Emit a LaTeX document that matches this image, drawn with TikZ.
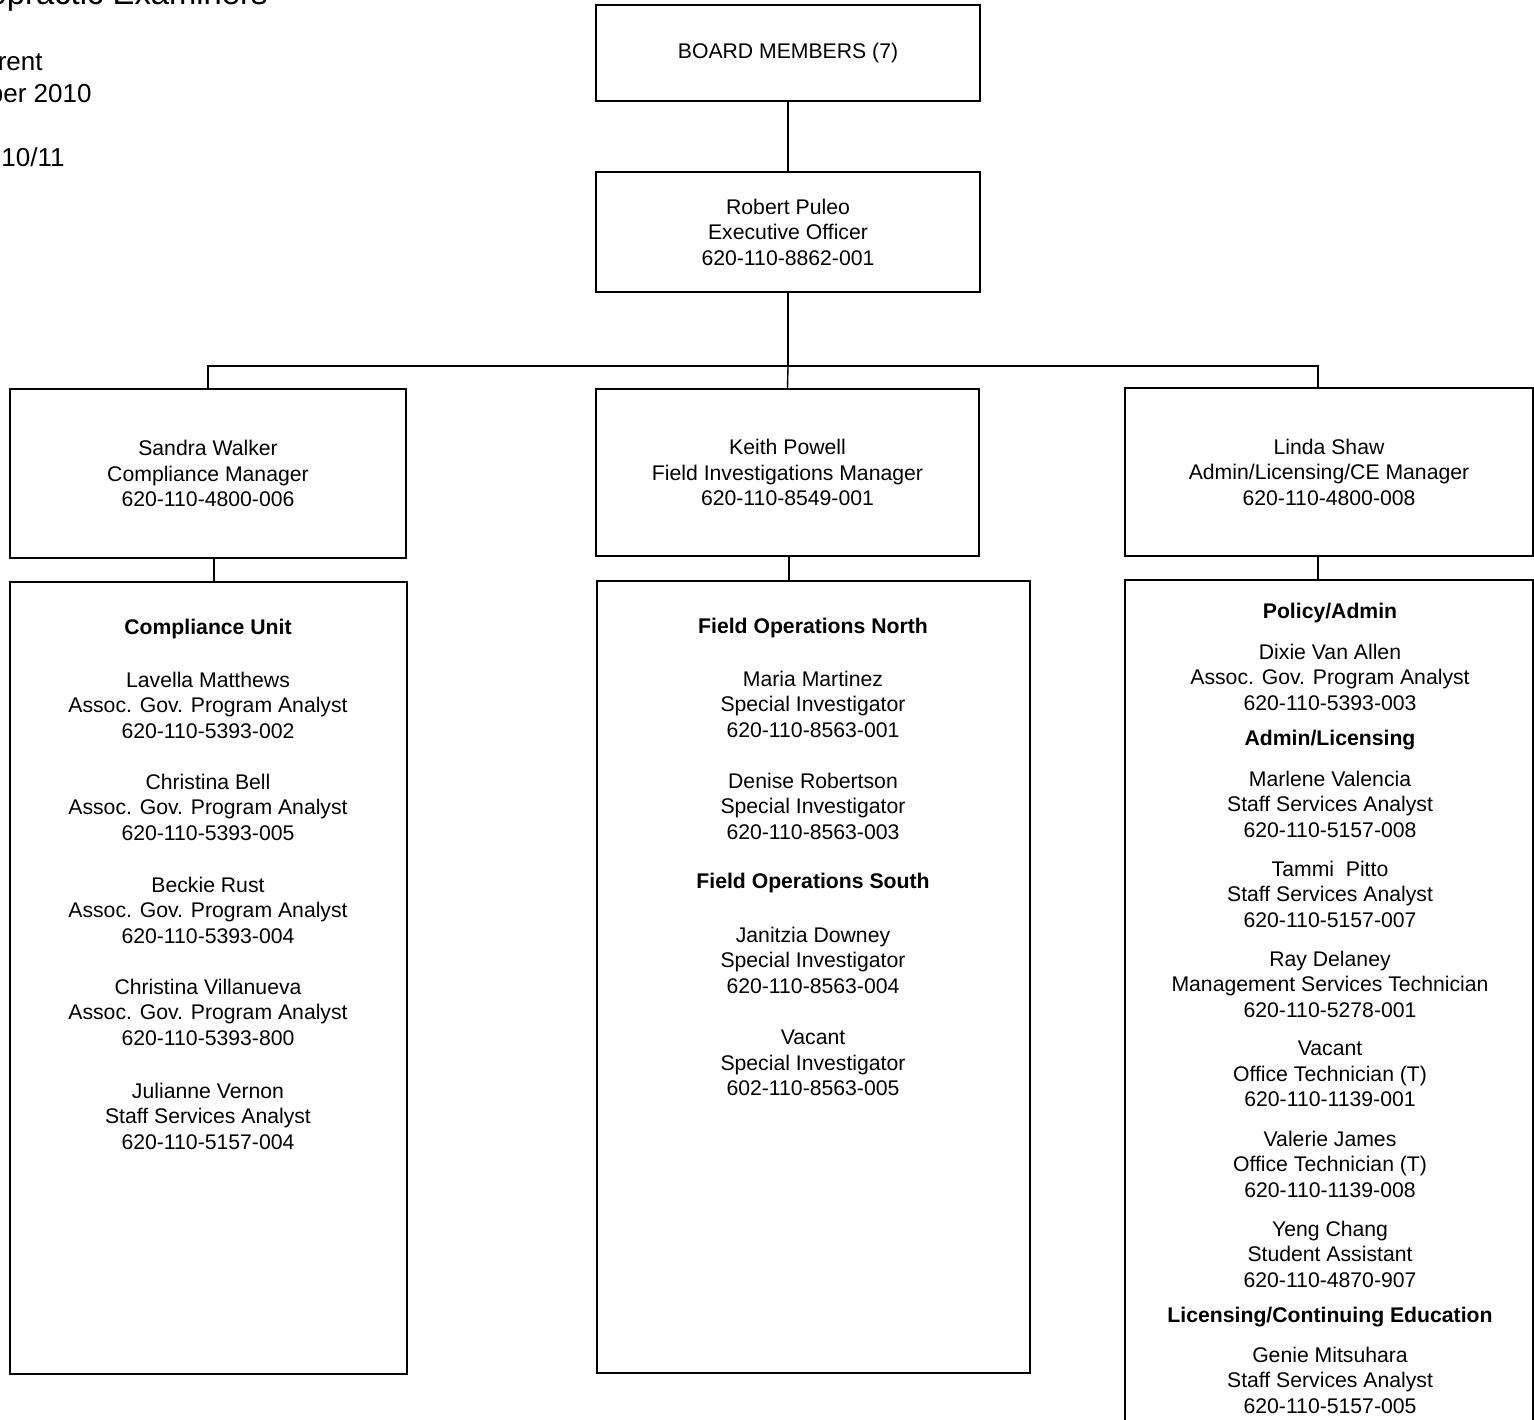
\documentclass[tikz,border=0pt]{standalone}
\usepackage{fontspec}
\setmainfont{Liberation Sans}
\begin{document}
\begin{tikzpicture}[x=0.5pt,y=-0.5pt,
  box/.style={draw, line width=0.7pt, rectangle, inner sep=0pt, align=center,
    font=\fontsize{10.6}{12.75}\selectfont},
  conn/.style={line width=0.7pt},
  txt/.style={inner sep=0pt, align=center, font=\fontsize{10.6}{12.75}\selectfont},
  hd/.style={inner sep=0pt, align=center, font=\bfseries\fontsize{10.6}{12.75}\selectfont},
  ttl/.style={inner sep=0pt, anchor=base east, font=\fontsize{13}{16}\selectfont}]
\useasboundingbox (0,0) rectangle (1534,1419);
\clip (0,0) rectangle (1534,1419);

% top-left title fragments
\node[ttl, font=\fontsize{16.4}{20}\selectfont] (t1) at (268,4) {opractic Examiners};
\node[ttl] (t2) at (43,70) {rent};
\node[ttl] (t3) at (92,102) {ber 2010};
\node[ttl] (t4) at (65,166) {10/11};

% upper boxes
\node[box, minimum width=192pt, minimum height=48pt] (bm) at (788,53) {BOARD MEMBERS (7)};
\node[box, minimum width=192pt, minimum height=60pt] (rp) at (788,232)
  {Robert Puleo\\Executive Officer\\620-110-8862-001};
\node[box, minimum width=198pt, minimum height=84.5pt] (sw) at (208,473.5)
  {Sandra Walker\\Compliance Manager\\620-110-4800-006};
\node[box, minimum width=191.5pt, minimum height=83.5pt] (kp) at (787.5,472.5)
  {Keith Powell\\Field Investigations Manager\\620-110-8549-001};
\node[box, minimum width=204pt, minimum height=84pt] (ls) at (1329,472)
  {Linda Shaw\\Admin/Licensing/CE Manager\\620-110-4800-008};

% lower boxes
\node[box, minimum width=198.5pt, minimum height=396pt] (cu) at (208.5,978) {};
\node[box, minimum width=216.5pt, minimum height=396pt] (fo) at (813.5,977) {};
\node[box, minimum width=204pt, minimum height=425pt] (pa) at (1329,1005) {};

% connectors
\coordinate (bar) at (788,366);
\draw[conn] (bm.south) -- (rp.north);
\draw[conn] (rp.south) -- (bar);
\draw[conn] (sw.north) |- (bar) -| ([xshift=-5.5pt]ls.north);
\draw[conn] (bar) -- (kp.north);
\draw[conn] ([xshift=3pt]sw.south) -- ([xshift=3pt]sw.south |- cu.north);
\draw[conn] ([xshift=0.75pt]kp.south) -- ([xshift=0.75pt]kp.south |- fo.north);
\draw[conn] ([xshift=-5.5pt]ls.south) -- ([xshift=-5.5pt]ls.south |- pa.north);

% Compliance Unit
\node[hd] (cuh) at (208,629) {Compliance Unit};
\node[txt] (cu1) at (208,705) {Lavella Matthews\\Assoc. Gov. Program Analyst\\620-110-5393-002};
\node[txt] (cu2) at (208,807) {Christina Bell\\Assoc. Gov. Program Analyst\\620-110-5393-005};
\node[txt] (cu3) at (208,910) {Beckie Rust\\Assoc. Gov. Program Analyst\\620-110-5393-004};
\node[txt] (cu4) at (208,1012) {Christina Villanueva\\Assoc. Gov. Program Analyst\\620-110-5393-800};
\node[txt] (cu5) at (208,1116) {Julianne Vernon\\Staff Services Analyst\\620-110-5157-004};

% Field Operations
\node[hd] (fon) at (813,628) {Field Operations North};
\node[txt] (fo1) at (813,704) {Maria Martinez\\Special Investigator\\620-110-8563-001};
\node[txt] (fo2) at (813,806) {Denise Robertson\\Special Investigator\\620-110-8563-003};
\node[hd] (fos) at (813,883) {Field Operations South};
\node[txt] (fo3) at (813,960) {Janitzia Downey\\Special Investigator\\620-110-8563-004};
\node[txt] (fo4) at (813,1063) {Vacant\\Special Investigator\\602-110-8563-005};

% Policy/Admin
\node[hd] (pah) at (1330,613) {Policy/Admin};
\node[txt] (pa1) at (1330,677) {Dixie Van Allen\\Assoc. Gov. Program Analyst\\620-110-5393-003};
\node[hd] (alh) at (1330,740) {Admin/Licensing};
\node[txt] (pa2) at (1330,804) {Marlene Valencia\\Staff Services Analyst\\620-110-5157-008};
\node[txt] (pa3) at (1330,894) {Tammi\ \ Pitto\\Staff Services Analyst\\620-110-5157-007};
\node[txt] (pa4) at (1330,984) {Ray Delaney\\Management Services Technician\\620-110-5278-001};
\node[txt] (pa5) at (1330,1074) {Vacant\\Office Technician (T)\\620-110-1139-001};
\node[txt] (pa6) at (1330,1164) {Valerie James\\Office Technician (T)\\620-110-1139-008};
\node[txt] (pa7) at (1330,1254) {Yeng Chang\\Student Assistant\\620-110-4870-907};
\node[hd] (lch) at (1330,1317) {Licensing/Continuing Education};
\node[txt] (pa8) at (1330,1380) {Genie Mitsuhara\\Staff Services Analyst\\620-110-5157-005};
\end{tikzpicture}
\end{document}
